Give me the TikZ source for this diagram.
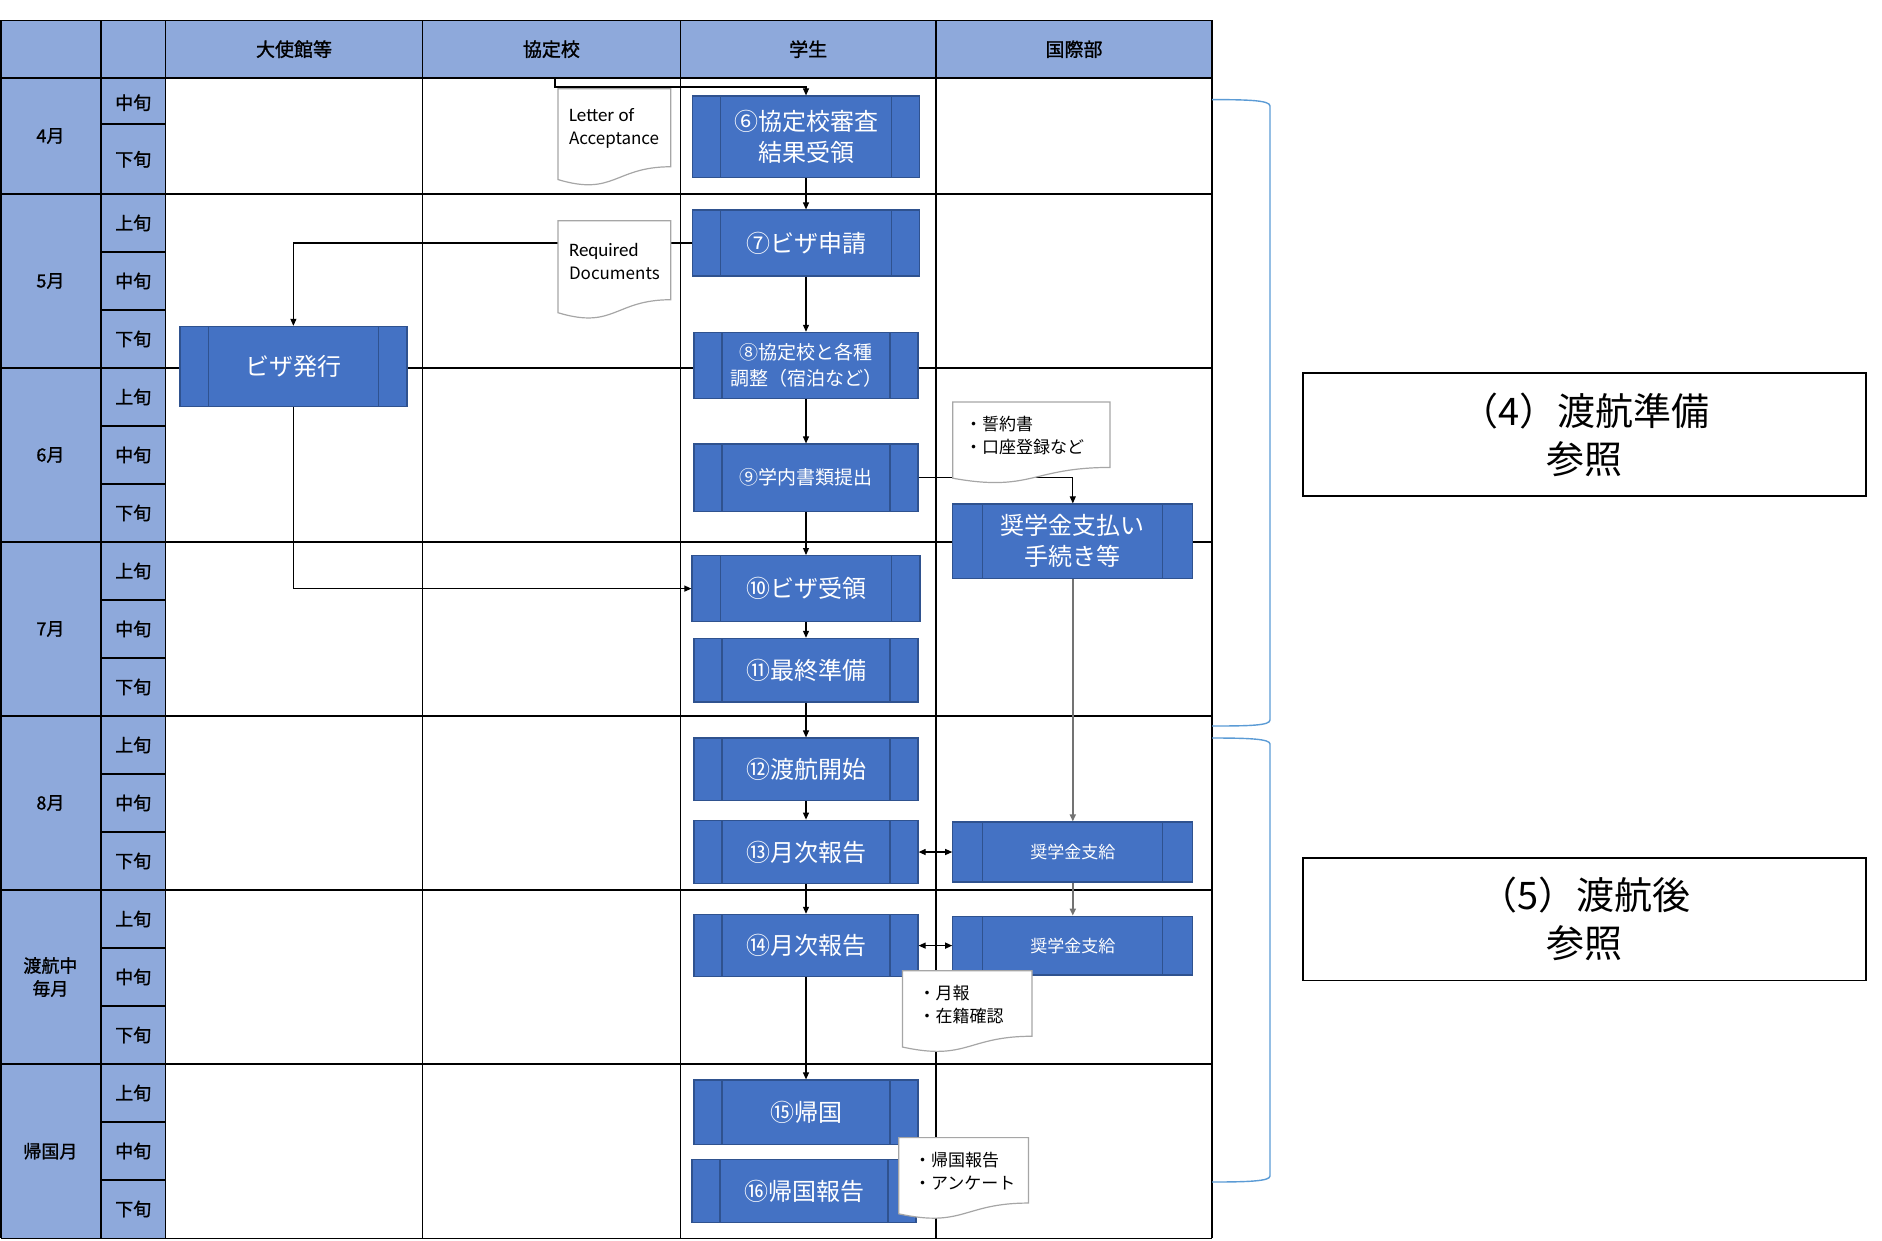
\documentclass[tikz,border=0pt]{standalone}
\usepackage{fontspec}
\setmainfont{Noto Sans CJK JP}
\newfontfamily\latinfont{Carlito}
\newfontfamily\medfont[FakeBold=1.2]{Noto Sans CJK JP}
\usetikzlibrary{arrows.meta,calc}
\definecolor{tblblue}{HTML}{8EA9DB}
\definecolor{procblue}{HTML}{4472C4}
\definecolor{procedge}{HTML}{2F528F}
\definecolor{brblue}{HTML}{5B9BD5}
\definecolor{docgray}{HTML}{A6A6A6}
\tikzstyle{tblline}=[line width=1.6pt, black]
\tikzstyle{hdr}=[font=\fontsize{19}{23}\selectfont\medfont]
\tikzstyle{mon}=[font=\fontsize{18}{23}\selectfont\medfont, align=center]
\tikzstyle{proc}=[draw=procedge, fill=procblue, text=white, line width=1.2pt, inner sep=0pt, align=center,
  path picture={\draw[procedge, line width=1.2pt]
    ($(path picture bounding box.north west)!.125!(path picture bounding box.north east)$) --
    ($(path picture bounding box.south west)!.125!(path picture bounding box.south east)$)
    ($(path picture bounding box.north west)!.875!(path picture bounding box.north east)$) --
    ($(path picture bounding box.south west)!.875!(path picture bounding box.south east)$);}]
\tikzstyle{boxbig}=[font=\fontsize{24}{31}\selectfont]
\tikzstyle{boxmid}=[font=\fontsize{19}{26}\selectfont]
\tikzstyle{boxsmall}=[font=\fontsize{17}{22}\selectfont]
\tikzstyle{conn}=[line width=1.1pt, -{Triangle[length=7pt,width=6pt]}]
\tikzstyle{both}=[line width=1.1pt, {Triangle[length=7pt,width=6pt]}-{Triangle[length=7pt,width=6pt]}]
\tikzstyle{gconn}=[conn, draw=black!55, line width=1.8pt]
\tikzstyle{docedge}=[draw=docgray, line width=1.2pt, fill=white]
\tikzstyle{doctext}=[font=\fontsize{17}{23}\selectfont, align=left, inner sep=0pt, anchor=west]
\tikzstyle{brline}=[draw=brblue, line width=1.4pt]
\tikzstyle{lbl}=[draw=black, line width=1.8pt, align=center, font=\fontsize{38}{48}\selectfont]
% name, left, top, width, height, text inset, text
\newcommand{\paperdoc}[7]{%
  \draw[docedge] (#2,#3) -- ({#2+#4},#3) -- ({#2+#4},{#3+0.802*#5})
    .. controls ({#2+0.5*#4},{#3+0.802*#5}) and ({#2+0.5*#4},{#3+1.1075*#5}) .. (#2,{#3+0.934*#5}) -- cycle;
  \node[doctext] (#1) at ({#2+#6},{#3+0.41*#5}) {#7};}

\begin{document}
\begin{tikzpicture}[x=1pt,y=-1pt]
\useasboundingbox (0,0) rectangle (1882,1240);
% table
\fill[tblblue] (1,20.4) rectangle (1212,78);
\fill[tblblue] (1,78) rectangle (165.6,1238.4);
\foreach \y in {20.4,78,194,368,542,716,890,1064,1238.4}
\draw[tblline] (1,\y) -- (1212,\y);
\foreach \y in {124,252,310,426,484,600,658,774,832,948,1006,1122,1180}
\draw[tblline] (100.8,\y) -- (165.6,\y);
\foreach \x in {1,100.8,165.6,422.4,680.4,936,1212}
\draw[tblline] (\x,20.4) -- (\x,1238.4);

\node[hdr] (embassy) at (294,49.2) {大使館等};
\node[hdr] (partner) at (551.4,49.2) {協定校};
\node[hdr] (student) at (808.2,49.2) {学生};
\node[hdr] (intl) at (1074,49.2) {国際部};

\foreach \m/\t/\b [count=\i] in {4月/78/194, 5月/194/368, 6月/368/542, 7月/542/716, 8月/716/890, {渡航中\\毎月}/890/1064, 帰国月/1064/1238.4}
\node[mon] (m\i) at (50.4,{(\t+\b)/2}) {\m};
\node[mon] (mid0) at (133.2,102.7) {中旬};
\node[mon] (late0) at (133.2,159.3) {下旬};
\foreach \t [count=\i] in {194,368,542,716,890,1064} {
  \node[mon] (early\i) at (133.2,{\t+29}) {上旬};
  \node[mon] (mid\i) at (133.2,{\t+87}) {中旬};
  \node[mon] (late\i) at (133.2,{\t+145}) {下旬};
}

% process boxes
\node[proc, boxbig, minimum width=227pt, minimum height=81.6pt] (chk) at (806,136.8) {⑥協定校審査\\結果受領};
\node[proc, boxbig, minimum width=227pt, minimum height=66pt] (visaapp) at (806,243) {⑦ビザ申請};
\node[proc, boxmid, minimum width=224pt, minimum height=66pt] (adjust) at (806,365.4) {⑧協定校と各種\\調整（宿泊など）};
\node[proc, boxmid, minimum width=224pt, minimum height=67.2pt] (papers) at (806,477.6) {⑨学内書類提出};
\node[proc, boxbig, minimum width=228pt, minimum height=66pt] (visarecv) at (806,588.6) {⑩ビザ受領};
\node[proc, boxbig, minimum width=224pt, minimum height=63.6pt] (final) at (806,670.2) {⑪最終準備};
\node[proc, boxbig, minimum width=224pt, minimum height=62.4pt] (depart) at (806,769.2) {⑫渡航開始};
\node[proc, boxbig, minimum width=224pt, minimum height=63.6pt] (report1) at (806,852) {⑬月次報告};
\node[proc, boxbig, minimum width=224pt, minimum height=62.4pt] (report2) at (806,945.6) {⑭月次報告};
\node[proc, boxbig, minimum width=224pt, minimum height=64.8pt] (return) at (806,1112.4) {⑮帰国};
\node[proc, boxbig, minimum width=224pt, minimum height=63.6pt] (retrep) at (804,1191) {⑯帰国報告};

\node[proc, boxbig, minimum width=227pt, minimum height=80.4pt] (visa) at (293.4,366.6) {ビザ発行};
\node[proc, boxbig, minimum width=240pt, minimum height=74.4pt] (payproc) at (1072.8,541.2) {奨学金支払い\\手続き等};
\node[proc, boxsmall, minimum width=240pt, minimum height=60pt] (grant1) at (1072.8,852) {奨学金支給};
\node[proc, boxsmall, minimum width=240pt, minimum height=58.8pt] (grant2) at (1072.8,945.6) {奨学金支給};

% connectors
\coordinate (fromschool) at (555,78);
\draw[conn] (fromschool) -- ++(0,9) -| (chk.north);
\draw[conn] (chk) -- (visaapp);
\draw[conn] (visaapp) -- (adjust);
\draw[conn] (visaapp.west) -| (visa.north);
\draw[conn] (visa.south) |- (visarecv.west);
\draw[conn] (adjust) -- (papers);
\draw[conn] (papers) -- (visarecv);
\draw[conn] (papers.east) -| (payproc.north);
\draw[conn] (visarecv) -- (final);
\draw[conn] (final) -- (depart);
\draw[conn] (depart) -- (report1);
\draw[conn] (report1) -- (report2);
\draw[conn] (report2) -- (return);
\draw[gconn] (payproc) -- (grant1);
\draw[gconn] (grant1) -- (grant2);
\draw[both] (report1) -- (grant1);
\draw[both] (report2) -- (grant2);

% documents
\paperdoc{loa}{558}{88.8}{112.8}{97.2}{10.8}{\latinfont\fontsize{19}{23}\selectfont Letter of\\Acceptance}
\paperdoc{reqdocs}{558}{220.8}{112.8}{98.4}{10.8}{\latinfont\fontsize{19}{23}\selectfont Required\\Documents}
\paperdoc{pledge}{952.8}{402}{157.2}{81.6}{12}{・誓約書\\・口座登録など}
\paperdoc{monthly}{902.4}{970.8}{129.6}{81.6}{16}{・月報\\・在籍確認}
\paperdoc{survey}{898.8}{1137.6}{129.6}{81.6}{15}{・帰国報告\\・アンケート}

% brackets and references
\draw[brline] (1212,99.6) .. controls (1250,99.6) and (1270,100.5) .. (1270,106) -- (1270,720)
  .. controls (1270,725.5) and (1250,726) .. (1212,726);
\draw[brline] (1212,738) .. controls (1250,738) and (1270,739) .. (1270,744) -- (1270,1176)
  .. controls (1270,1181) and (1250,1182) .. (1212,1182);
\node[lbl, minimum width=563pt, minimum height=122.6pt] (prepref) at (1584.6,434.4) {（4）渡航準備\\参照};
\node[lbl, minimum width=563pt, minimum height=122.4pt] (afterref) at (1584.6,919.2) {（5）渡航後\\参照};
\end{tikzpicture}
\end{document}
